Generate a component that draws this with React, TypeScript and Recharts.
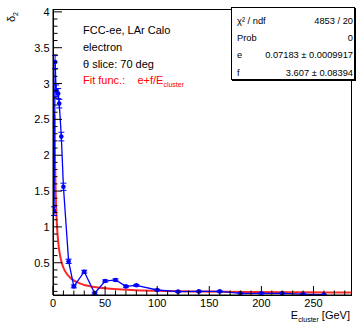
import { ComposedChart, ErrorBar, Line, XAxis, YAxis } from "recharts";

// measured points: cluster energy [GeV] vs delta_2
const energies = [1, 2, 3, 5, 6, 8, 10, 15, 20, 30, 40, 50, 60, 70, 80, 100, 120, 140, 160, 180, 200, 220, 240, 260];
const delta2 = [1.22, 3.3, 2.9, 2.86, 2.72, 2.26, 1.56, 0.52, 0.17, 0.375, 0.075, 0.245, 0.26, 0.17, 0.185, 0.12, 0.097, 0.1, 0.1, 0.074, 0.074, 0.074, 0.062, 0.055];
const delta2Err = [0.06, 0.09, 0.08, 0.07, 0.06, 0.06, 0.05, 0.03, 0.02, 0.02, 0.015, 0.015, 0.015, 0.012, 0.012, 0.01, 0.008, 0.008, 0.008, 0.006, 0.006, 0.006, 0.005, 0.005];

// fit curve e + f/E
const fitE = [1.45, 1.7, 2, 2.5, 3, 4, 5, 6, 8, 10, 13, 17, 22, 30, 40, 55, 75, 100, 140, 190, 240, 286];
const fitVal = [2.56, 2.19, 1.875, 1.515, 1.27, 0.975, 0.79, 0.67, 0.52, 0.43, 0.35, 0.285, 0.235, 0.19, 0.162, 0.137, 0.12, 0.108, 0.098, 0.091, 0.087, 0.084];

const xTicks = [0, 50, 100, 150, 200, 250];
const yTicks = [0.5, 1, 1.5, 2, 2.5, 3, 3.5, 4];
const xAll = Array.from({ length: 29 }, (_, i) => i * 10);
const yAll = Array.from({ length: 40 }, (_, i) => Math.round((i + 1) * 10) / 100);

const meas = energies.map((e, i) => ({ e, d: delta2[i], err: delta2Err[i] }));
const fit = fitE.map((e, i) => ({ e, d: fitVal[i] }));

const W = 357;
const H = 326;
const PL = 53;
const PT = 9;
const PR = 351;
const PB = 295;
const FONT = "'Liberation Sans', Arial, sans-serif";

const isMajor = (list: number[], v: number) => list.some((t) => Math.abs(t - v) < 1e-6);

// ROOT style: ticks point into the frame, labels only on the major ones
function XTick(props: any) {
  const { x, y, payload } = props;
  const major = isMajor(xTicks, payload.value);
  return (
    <g>
      <line x1={x} x2={x} y1={y} y2={y - (major ? 9 : 4.5)} stroke="#000" />
      {major && (
        <text x={x} y={y + 12} textAnchor="middle" fontSize={11} fontFamily={FONT} fill="#000">
          {payload.value}
        </text>
      )}
    </g>
  );
}

function YTick(props: any) {
  const { x, y, payload } = props;
  const major = isMajor(yTicks, payload.value);
  return (
    <g>
      <line x1={x} x2={x + (major ? 9 : 4.5)} y1={y} y2={y} stroke="#000" />
      {major && (
        <text x={x - 3.5} y={y + 4} textAnchor="end" fontSize={11} fontFamily={FONT} fill="#000">
          {payload.value}
        </text>
      )}
    </g>
  );
}

export default function App() {
  return (
    <div style={{ position: "absolute", left: 0, top: 0, width: W, height: H, background: "#fff", fontFamily: FONT }}>
      <ComposedChart width={W} height={H} margin={{ top: PT, right: W - PR, bottom: 0, left: 0 }}>
        <XAxis type="number" dataKey="e" domain={[0, 286]} allowDataOverflow ticks={xAll} height={H - PB}
          tickSize={0} tickMargin={0} tick={<XTick />} axisLine={{ stroke: "#000" }} tickLine={false} interval={0} />
        <YAxis type="number" domain={[0.05, 4.04]} allowDataOverflow ticks={yAll} width={PL}
          tickSize={0} tickMargin={0} tick={<YTick />} axisLine={{ stroke: "#000" }} tickLine={false} interval={0} />
        <Line data={fit} dataKey="d" type="monotone" stroke="#ff0000" strokeWidth={2} strokeOpacity={0.85}
          dot={false} isAnimationActive={false} />
        <Line data={meas} dataKey="d" type="linear" stroke="#0000ff" strokeWidth={1.3}
          dot={{ r: 2.3, fill: "#0000ff", stroke: "none" }} isAnimationActive={false}>
          <ErrorBar dataKey="err" direction="y" width={3} stroke="#0000ff" strokeWidth={1} />
        </Line>
      </ComposedChart>

      {/* frame */}
      <div style={{ position: "absolute", left: PL, top: PT, width: PR - PL + 1, height: PB - PT + 1, border: "1px solid #000", boxSizing: "border-box", pointerEvents: "none" }} />

      {/* y label */}
      <div style={{ position: "absolute", left: 7, top: 17, fontSize: 11, transform: "translate(0,-50%) rotate(-90deg)", transformOrigin: "center", whiteSpace: "nowrap" }}>
        δ<sub style={{ fontSize: 7 }}>2</sub>
      </div>

      {/* x label */}
      <div style={{ position: "absolute", right: W - 350, top: 309, fontSize: 11, whiteSpace: "nowrap" }}>
        E<sub style={{ fontSize: 7 }}>cluster</sub> [GeV]
      </div>

      {/* annotation */}
      <div style={{ position: "absolute", left: 83, top: 22, fontSize: 11, lineHeight: "16.8px", whiteSpace: "nowrap" }}>
        <div>FCC-ee, LAr Calo</div>
        <div>electron</div>
        <div>θ slice: 70 deg</div>
        <div style={{ color: "#ff0000" }}>
          Fit func.:&nbsp;&nbsp;&nbsp; e+f/E<sub style={{ fontSize: 7 }}>cluster</sub>
        </div>
      </div>

      {/* stats box */}
      <div style={{ position: "absolute", left: 231, top: 7, width: 124, height: 73, border: "1px solid #000", background: "#fff", boxSizing: "border-box", fontSize: 9.3, boxShadow: "1px 1px 0 #000" }}>
        {[
          ["χ² / ndf", "4853 / 20"],
          ["Prob", "0"],
          ["e", "0.07183 ± 0.0009917"],
          ["f", "3.607 ± 0.08394"],
        ].map(([k, v], i) => (
          <div key={k} style={{ position: "absolute", left: 5, right: 1, top: 7 + i * 17.2, display: "flex", justifyContent: "space-between", lineHeight: "12px" }}>
            <span>{k}</span>
            <span>{v}</span>
          </div>
        ))}
      </div>
    </div>
  );
}
